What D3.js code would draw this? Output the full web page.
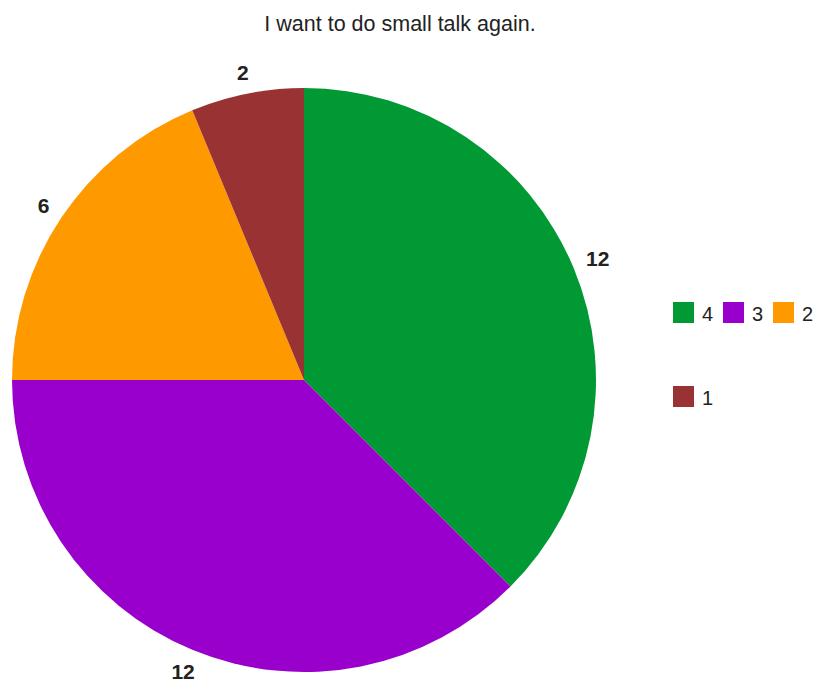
<!DOCTYPE html>
<html><head><meta charset="utf-8">
<script src="https://cdn.jsdelivr.net/npm/d3@7"></script>
<style>body{margin:0;background:#fff;}svg{display:block;font-family:"Liberation Sans",Arial,sans-serif;}</style>
</head><body>
<svg id="chart" width="816" height="682"></svg>
<script>
const title = "I want to do small talk again.";
const categories = ["4", "3", "2", "1"];
const values = [12, 12, 6, 2];
const colors = ["#009933", "#9900cc", "#ff9900", "#993333"];

const svg = d3.select("#chart");
svg.append("rect").attr("width", 816).attr("height", 682).attr("fill", "#fff");

svg.append("text").attr("x", 400).attr("y", 31).attr("text-anchor", "middle")
  .attr("font-size", 21.5).attr("fill", "#222").text(title);

const cx = 304, cy = 380, r = 292;
const data = categories.map((c, i) => ({cat: c, value: values[i], color: colors[i]}));
const pie = d3.pie().value(d => d.value).sort(null);
const arcs = pie(data);
const arc = d3.arc().innerRadius(0).outerRadius(r);

const g = svg.append("g").attr("transform", `translate(${cx},${cy})`);
g.selectAll("path").data(arcs).join("path")
  .attr("d", arc).attr("fill", d => d.data.color);

const gap = 304;
g.selectAll("text.lbl").data(arcs).join("text").attr("class", "lbl")
  .attr("text-anchor", "middle").attr("dominant-baseline", "central")
  .attr("font-size", 21).attr("font-weight", "bold").attr("fill", "#222")
  .text(d => d.data.value)
  .each(function(d) {
    const bb = this.getBBox();
    const a = (d.startAngle + d.endAngle) / 2;
    const ux = Math.sin(a), uy = -Math.cos(a);
    const ext = bb.width / 2 * Math.abs(ux) + bb.height * 0.35 * Math.abs(uy);
    const dist = gap + ext;
    d3.select(this).attr("transform", `translate(${ux * dist},${uy * dist})`);
  });

// legend
const legendPos = [[673, 302], [723, 302], [773, 302], [673, 386]];
const lg = svg.append("g");
data.forEach((d, i) => {
  const [x, y] = legendPos[i];
  lg.append("rect").attr("x", x).attr("y", y).attr("width", 21).attr("height", 21).attr("fill", d.color);
  lg.append("text").attr("x", x + 29).attr("y", y + 19).attr("font-size", 20).attr("fill", "#222").text(d.cat);
});
</script>
</body></html>
